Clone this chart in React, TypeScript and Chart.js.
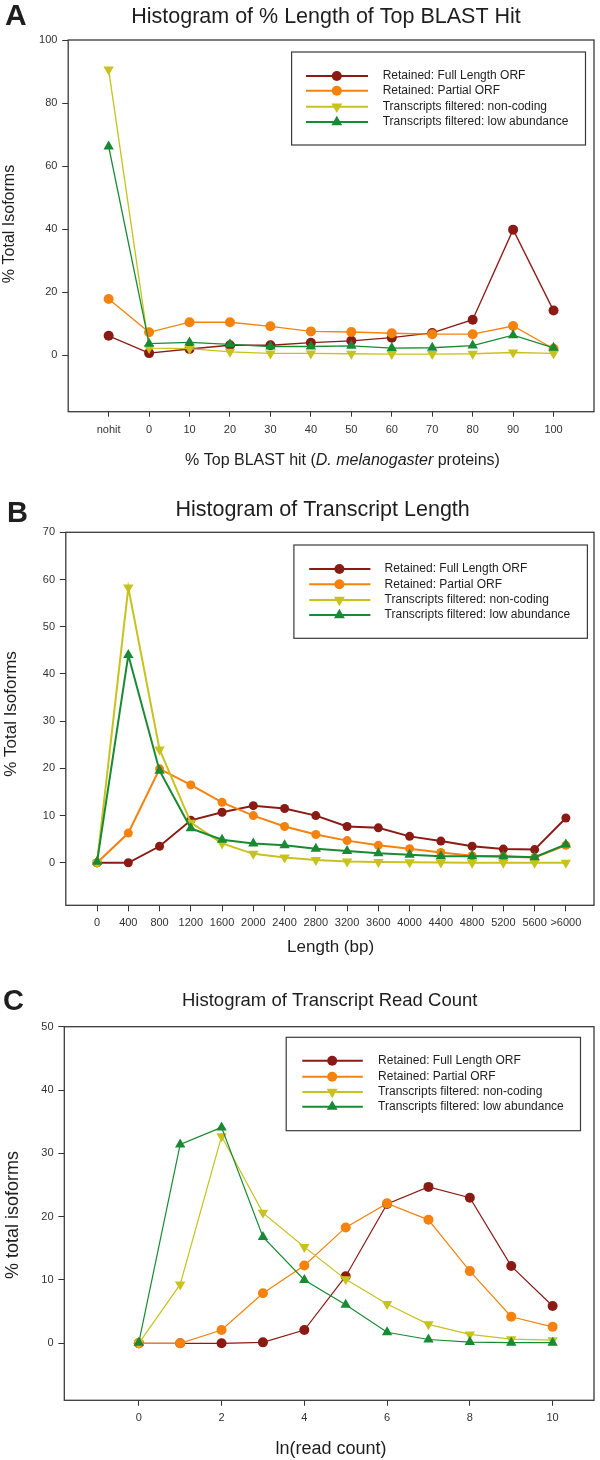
import React, { useEffect, useRef } from 'react';
import { Chart, registerables } from 'chart.js';

Chart.register(...registerables);

const FONT = "'Liberation Sans', Arial, Helvetica, sans-serif";

// ---------- shared series info ----------
const seriesNames = [
  'Retained: Full Length ORF',
  'Retained: Partial ORF',
  'Transcripts filtered: non-coding',
  'Transcripts filtered: low abundance',
];
const seriesColors = ['#8a1b14', '#f5820d', '#c8c21e', '#188a33'];
const seriesMarkers = ['circle', 'circle', 'down', 'up'];

// ---------- Panel A: % length of top BLAST hit ----------
const blastCategories = ['nohit', '0', '10', '20', '30', '40', '50', '60', '70', '80', '90', '100'];
const blastFull = [6.1, 0.6, 1.9, 3.1, 3.1, 3.9, 4.5, 5.5, 7.0, 11.2, 39.8, 14.1];
const blastPartial = [17.8, 7.2, 10.4, 10.4, 9.1, 7.5, 7.3, 6.9, 6.6, 6.6, 9.2, 2.0];
const blastNonCoding = [90.6, 2.2, 2.0, 1.0, 0.5, 0.5, 0.4, 0.3, 0.3, 0.4, 0.8, 0.5];
const blastLowAbundance = [66.2, 3.6, 4.0, 3.4, 2.7, 2.7, 2.9, 2.2, 2.3, 3.0, 6.3, 2.3];
const blastYTicks = [0, 20, 40, 60, 80, 100];

// ---------- Panel B: transcript length ----------
const lengthCategories = ['0', '400', '800', '1200', '1600', '2000', '2400', '2800', '3200', '3600', '4000', '4400', '4800', '5200', '5600', '>6000'];
const lengthFull = [0, 0, 3.5, 9.0, 10.7, 12.1, 11.5, 10.0, 7.7, 7.4, 5.6, 4.6, 3.5, 2.9, 2.8, 9.5];
const lengthPartial = [0, 6.3, 19.9, 16.5, 12.8, 10.0, 7.7, 6.0, 4.7, 3.7, 3.0, 2.2, 1.5, 1.3, 1.1, 3.7];
const lengthNonCoding = [0, 58.3, 24.0, 8.5, 4.1, 1.9, 1.1, 0.6, 0.3, 0.15, 0.1, 0.05, 0, 0, 0, 0];
const lengthLowAbundance = [0.2, 44.0, 19.5, 7.3, 4.9, 4.1, 3.7, 3.0, 2.5, 2.0, 1.7, 1.4, 1.4, 1.4, 1.2, 3.9];
const lengthYTicks = [0, 10, 20, 30, 40, 50, 60, 70];

// ---------- Panel C: read count ----------
const readBins = [0, 1, 2, 3, 4, 5, 6, 7, 8, 9, 10];
const readFull = [0, 0, 0, 0.15, 2.1, 10.6, 22.0, 24.7, 23.0, 12.2, 5.9];
const readPartial = [0, 0, 2.1, 7.9, 12.3, 18.3, 22.1, 19.5, 11.4, 4.2, 2.6];
const readNonCoding = [0, 9.3, 32.7, 20.6, 15.2, 10.1, 6.2, 3.0, 1.4, 0.65, 0.5];
const readLowAbundance = [0.1, 31.4, 34.1, 16.8, 10.0, 6.1, 1.75, 0.6, 0.2, 0.1, 0.1];
const readXTicks = [0, 2, 4, 6, 8, 10];
const readYTicks = [0, 10, 20, 30, 40, 50];

type TextPart = { text: string; italic?: boolean };

type Spec = {
  height: number;
  area: { left: number; top: number; right: number; bottom: number };
  xs: number[];
  series: number[][];
  xMin: number;
  xMax: number;
  xTicks: number[];
  xLabels: string[];
  yMin: number;
  yMax: number;
  yTicks: number[];
  letter: { text: string; x: number; y: number; size: number };
  title: { text: string; x: number; y: number; size: number };
  xTitle: { parts: TextPart[]; x: number; y: number; size: number };
  yTitle: { text: string; x: number; y: number; size: number };
  legend: { box: [number, number, number, number]; rows: number[]; lx1: number; lx2: number; mx: number; tx: number };
  lineWidth: number;
  circleR: number;
  triR: number;
  xTickLen: number;
  xTickPad: number;
};

const specs: Spec[] = [
  {
    height: 480,
    area: { left: 68.2, top: 40, right: 598, bottom: 411.7 },
    xs: blastCategories.map((_, i) => i),
    series: [blastFull, blastPartial, blastNonCoding, blastLowAbundance],
    xMin: -1,
    xMax: 12,
    xTicks: blastCategories.map((_, i) => i),
    xLabels: blastCategories,
    yMin: -18,
    yMax: 100,
    yTicks: blastYTicks,
    letter: { text: 'A', x: 5, y: 25, size: 30 },
    title: { text: 'Histogram of % Length of Top BLAST Hit', x: 326, y: 23, size: 21.5 },
    xTitle: {
      parts: [
        { text: '% Top BLAST hit (' },
        { text: 'D. melanogaster', italic: true },
        { text: ' proteins)' },
      ],
      x: 342.5,
      y: 464.5,
      size: 16,
    },
    yTitle: { text: '% Total Isoforms', x: 14, y: 224, size: 16 },
    legend: { box: [291.6, 52, 585.5, 145], rows: [76, 90.7, 106.7, 122], lx1: 306, lx2: 368, mx: 336.8, tx: 382.7 },
    lineWidth: 1.3,
    circleR: 5,
    triR: 6,
    xTickLen: 5,
    xTickPad: 6.5,
  },
  {
    height: 480,
    area: { left: 65.8, top: 52.3, right: 596.5, bottom: 425.3 },
    xs: lengthCategories.map((_, i) => i),
    series: [lengthFull, lengthPartial, lengthNonCoding, lengthLowAbundance],
    xMin: -1,
    xMax: 15.9,
    xTicks: lengthCategories.map((_, i) => i),
    xLabels: lengthCategories,
    yMin: -9,
    yMax: 70,
    yTicks: lengthYTicks,
    letter: { text: 'B', x: 7, y: 41.7, size: 29 },
    title: { text: 'Histogram of Transcript Length', x: 322.6, y: 35.8, size: 21.5 },
    xTitle: { parts: [{ text: 'Length (bp)' }], x: 330.6, y: 471.7, size: 17 },
    yTitle: { text: '% Total Isoforms', x: 16, y: 234, size: 17 },
    legend: { box: [293.9, 65, 587.4, 158.3], rows: [89, 104.3, 120, 135], lx1: 309.2, lx2: 370.4, mx: 339.4, tx: 384.6 },
    lineWidth: 2,
    circleR: 4.5,
    triR: 6,
    xTickLen: 6,
    xTickPad: 4.8,
  },
  {
    height: 500,
    area: { left: 64.3, top: 66.7, right: 597.8, bottom: 440.3 },
    xs: readBins,
    series: [readFull, readPartial, readNonCoding, readLowAbundance],
    xMin: -1.8,
    xMax: 11,
    xTicks: readXTicks,
    xLabels: readXTicks.map(String),
    yMin: -9,
    yMax: 50,
    yTicks: readYTicks,
    letter: { text: 'C', x: 3, y: 50, size: 29 },
    title: { text: 'Histogram of Transcript Read Count', x: 329.7, y: 46, size: 18.5 },
    xTitle: { parts: [{ text: 'ln(read count)' }], x: 331, y: 494, size: 18 },
    yTitle: { text: '% total isoforms', x: 17.5, y: 255, size: 18 },
    legend: { box: [286.2, 77.3, 580.5, 170.7], rows: [100.7, 116.7, 132, 146.7], lx1: 302.3, lx2: 362.8, mx: 332.2, tx: 378.1 },
    lineWidth: 1.2,
    circleR: 5,
    triR: 6,
    xTickLen: 5.5,
    xTickPad: 5.5,
  },
];

function drawMarker(ctx: CanvasRenderingContext2D, kind: string, x: number, y: number, r: number, tr: number, color: string) {
  ctx.save();
  ctx.fillStyle = color;
  ctx.beginPath();
  if (kind === 'circle') {
    ctx.arc(x, y, r, 0, Math.PI * 2);
  } else {
    const dir = kind === 'up' ? 1 : -1;
    const s = Math.sqrt(3) / 2;
    ctx.moveTo(x, y - dir * tr);
    ctx.lineTo(x + s * tr, y + dir * tr / 2);
    ctx.lineTo(x - s * tr, y + dir * tr / 2);
    ctx.closePath();
  }
  ctx.fill();
  ctx.restore();
}

function makeDecorPlugin(spec: Spec) {
  return {
    id: 'decor',
    afterDraw(chart: any) {
      const ctx: CanvasRenderingContext2D = chart.ctx;
      const ca = chart.chartArea;
      ctx.save();
      // frame
      ctx.strokeStyle = '#3a3a3a';
      ctx.lineWidth = 1.3;
      ctx.strokeRect(ca.left, ca.top, ca.right - ca.left, ca.bottom - ca.top);

      ctx.fillStyle = '#1e1e1e';
      ctx.textBaseline = 'alphabetic';
      // panel letter
      ctx.font = `bold ${spec.letter.size}px ${FONT}`;
      ctx.textAlign = 'left';
      ctx.fillText(spec.letter.text, spec.letter.x, spec.letter.y);
      // title
      ctx.font = `${spec.title.size}px ${FONT}`;
      ctx.textAlign = 'center';
      ctx.fillText(spec.title.text, spec.title.x, spec.title.y);
      // x title (mixed styles)
      const parts = spec.xTitle.parts;
      const fontOf = (p: TextPart) => `${p.italic ? 'italic ' : ''}${spec.xTitle.size}px ${FONT}`;
      let total = 0;
      const widths = parts.map((p) => {
        ctx.font = fontOf(p);
        const w = ctx.measureText(p.text).width;
        total += w;
        return w;
      });
      let cx = spec.xTitle.x - total / 2;
      ctx.textAlign = 'left';
      parts.forEach((p, i) => {
        ctx.font = fontOf(p);
        ctx.fillText(p.text, cx, spec.xTitle.y);
        cx += widths[i];
      });
      // y title
      ctx.save();
      ctx.translate(spec.yTitle.x, spec.yTitle.y);
      ctx.rotate(-Math.PI / 2);
      ctx.font = `${spec.yTitle.size}px ${FONT}`;
      ctx.textAlign = 'center';
      ctx.fillText(spec.yTitle.text, 0, 0);
      ctx.restore();

      // legend
      const [bx1, by1, bx2, by2] = spec.legend.box;
      ctx.fillStyle = '#ffffff';
      ctx.fillRect(bx1, by1, bx2 - bx1, by2 - by1);
      ctx.strokeStyle = '#3a3a3a';
      ctx.lineWidth = 1.2;
      ctx.strokeRect(bx1, by1, bx2 - bx1, by2 - by1);
      seriesNames.forEach((name, i) => {
        const y = spec.legend.rows[i];
        ctx.strokeStyle = seriesColors[i];
        ctx.lineWidth = 2;
        ctx.beginPath();
        ctx.moveTo(spec.legend.lx1, y);
        ctx.lineTo(spec.legend.lx2, y);
        ctx.stroke();
        drawMarker(ctx, seriesMarkers[i], spec.legend.mx, y, 5, 6.3, seriesColors[i]);
        ctx.fillStyle = '#1e1e1e';
        ctx.font = `12px ${FONT}`;
        ctx.textAlign = 'left';
        ctx.textBaseline = 'middle';
        ctx.fillText(name, spec.legend.tx, y);
      });
      ctx.restore();
    },
  };
}

function Panel({ spec }: { spec: Spec }) {
  const ref = useRef<HTMLCanvasElement | null>(null);
  useEffect(() => {
    const canvas = ref.current;
    if (!canvas) return;
    const W = 600;
    const H = spec.height;
    const datasets = spec.series.map((vals, i) => {
      const kind = seriesMarkers[i];
      return {
        label: seriesNames[i],
        data: vals.map((v, j) => ({ x: spec.xs[j], y: v })),
        borderColor: seriesColors[i],
        backgroundColor: seriesColors[i],
        borderWidth: spec.lineWidth,
        pointStyle: kind === 'circle' ? 'circle' : 'triangle',
        rotation: kind === 'down' ? 180 : 0,
        pointRadius: kind === 'circle' ? spec.circleR : spec.triR,
        pointBorderWidth: 0,
        pointBackgroundColor: seriesColors[i],
        pointBorderColor: seriesColors[i],
        tension: 0,
        order: 3 - i,
        clip: false as any,
      };
    });
    const chart = new Chart(canvas, {
      type: 'line',
      data: { datasets },
      options: {
        animation: false,
        responsive: false,
        maintainAspectRatio: false,
        devicePixelRatio: 1,
        layout: { padding: { left: 0, top: spec.area.top, right: W - spec.area.right, bottom: 0 } },
        plugins: { legend: { display: false }, title: { display: false }, tooltip: { enabled: false } },
        scales: {
          x: {
            type: 'linear',
            min: spec.xMin,
            max: spec.xMax,
            afterBuildTicks: (axis: any) => {
              axis.ticks = spec.xTicks.map((v) => ({ value: v }));
            },
            afterFit: (axis: any) => {
              axis.height = H - spec.area.bottom;
            },
            ticks: {
              autoSkip: false,
              maxRotation: 0,
              minRotation: 0,
              padding: spec.xTickPad,
              color: '#333333',
              font: { family: FONT, size: 11 },
              callback: (_v: any, idx: number) => spec.xLabels[idx],
            },
            grid: { drawOnChartArea: false, drawTicks: true, tickLength: spec.xTickLen, tickColor: '#333333', tickWidth: 1 },
            border: { display: false },
          },
          y: {
            type: 'linear',
            min: spec.yMin,
            max: spec.yMax,
            afterBuildTicks: (axis: any) => {
              axis.ticks = spec.yTicks.map((v) => ({ value: v }));
            },
            afterFit: (axis: any) => {
              axis.width = spec.area.left;
            },
            ticks: {
              padding: 4.8,
              color: '#333333',
              font: { family: FONT, size: 11 },
              callback: (v: any) => String(v),
            },
            grid: { drawOnChartArea: false, drawTicks: true, tickLength: 6, tickColor: '#333333', tickWidth: 1 },
            border: { display: false },
          },
        },
      } as any,
      plugins: [makeDecorPlugin(spec)],
    });
    return () => chart.destroy();
  }, [spec]);
  return <canvas ref={ref} width={600} height={spec.height} style={{ display: 'block', width: 600, height: spec.height }} />;
}

export default function App() {
  return (
    <div style={{ position: 'absolute', left: 0, top: 0, width: 600, height: 1460, background: '#ffffff' }}>
      {specs.map((s, i) => (
        <Panel key={i} spec={s} />
      ))}
    </div>
  );
}
